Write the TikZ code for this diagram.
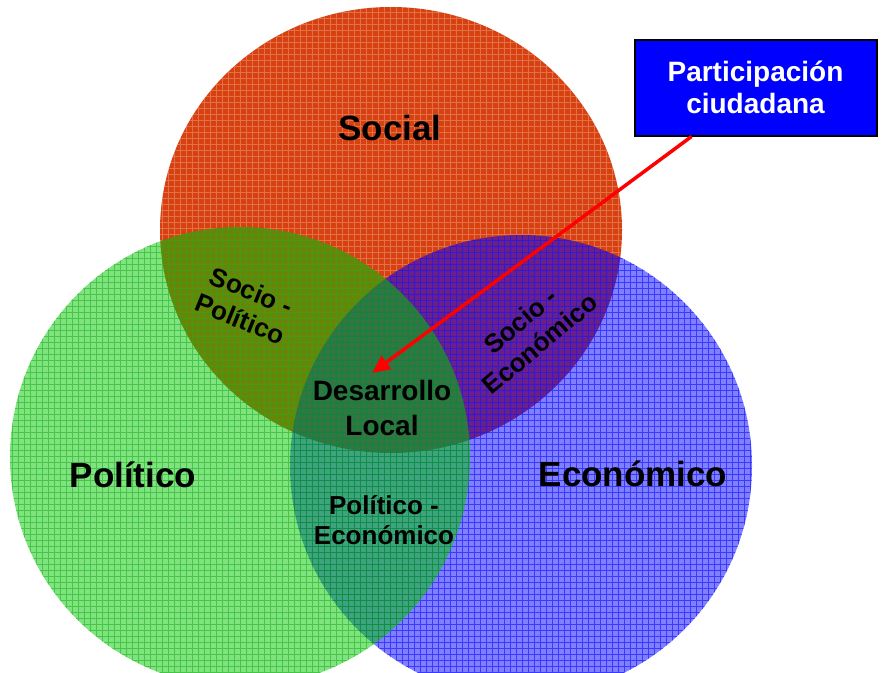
\documentclass[tikz,border=0pt]{standalone}
\usepackage{fontspec}
\setmainfont{Liberation Sans}
\usetikzlibrary{arrows.meta,calc}
\definecolor{socred}{RGB}{215,65,15}
\definecolor{polgreen}{RGB}{0,200,0}
\definecolor{ecoblue}{RGB}{0,0,255}
\definecolor{arrred}{RGB}{255,0,0}
\begin{document}
\begin{tikzpicture}[x=1pt,y=-1pt,
  big/.style={font=\bfseries\fontsize{35}{40}\selectfont, align=center},
  mid/.style={font=\bfseries\fontsize{28}{35}\selectfont, align=center},
  small/.style={font=\bfseries\fontsize{26}{30}\selectfont, align=center},
  boxtext/.style={font=\bfseries\fontsize{28}{32}\selectfont, align=center, text=white},
  gridlines/.style={line width=0.9pt}
]
\useasboundingbox (0,0) rectangle (885,672);
% Social
\fill[socred] (391,230) ellipse [x radius=231pt, y radius=223pt];
\begin{scope}
  \clip (391,230) ellipse [x radius=231pt, y radius=223pt];
  \draw[gridlines, white, opacity=0.25] (150,0) grid[step=6pt] (640,470);
\end{scope}
% Economico
\fill[ecoblue, opacity=0.5] (521,466) circle [radius=231pt];
\begin{scope}
  \clip (521,466) circle [radius=231pt];
  \draw[gridlines, ecoblue, opacity=0.55] (280,220) grid[step=6pt] (760,700);
\end{scope}
% Politico
\fill[polgreen, opacity=0.5] (240,457) circle [radius=230pt];
\begin{scope}
  \clip (240,457) circle [radius=230pt];
  \draw[gridlines, polgreen!80!black, opacity=0.45] (0,220) grid[step=6pt] (480,700);
\end{scope}
% labels
\node[big] (social) at (390,128) {Social};
\node[big] (politico) at (133,475) {Político};
\node[big] (economico) at (633,474) {Económico};
\node[mid] (desarrollo) at (382,408) {Desarrollo\\Local};
\node[small] (poleco) at (384,520) {Político -\\Económico};
\node[small, rotate=-22] (socpol) at (246,305) {Socio -\\Político};
\node[small, rotate=40] (soceco) at (530,332) {Socio -\\Económico};
% box
\node[draw=black, line width=2pt, fill=ecoblue, minimum width=242pt, minimum height=96pt, boxtext] (box) at (755.5,87.5) {Participación\\ciudadana};
\coordinate (tip) at (372,373);
\draw[arrred, line width=3.5pt, -{Triangle[length=18pt,width=16pt]}] ($(box.south west)+(58,0)$) -- (tip);
\end{tikzpicture}
\end{document}
